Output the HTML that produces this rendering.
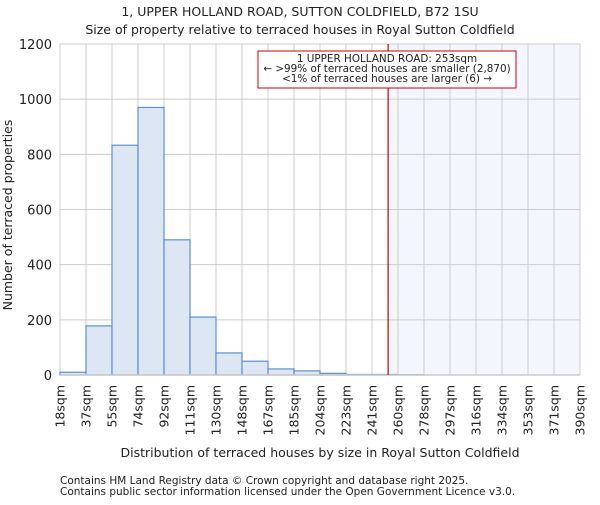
<!DOCTYPE html>
<html><head><meta charset="utf-8"><style>
body{margin:0;background:#fff}
svg text{font-family:"DejaVu Sans","Liberation Sans",sans-serif;fill:#222}
</style></head><body>
<svg id="chart" width="600" height="500" xmlns="http://www.w3.org/2000/svg">
<text x="300" y="16" font-size="12.5" text-anchor="middle">1, UPPER HOLLAND ROAD, SUTTON COLDFIELD, B72 1SU</text>
<text x="300" y="34" font-size="12.5" text-anchor="middle">Size of property relative to terraced houses in Royal Sutton Coldfield</text>
<g id="plot"></g>
<text x="320" y="457" font-size="12.5" text-anchor="middle">Distribution of terraced houses by size in Royal Sutton Coldfield</text>
<text transform="translate(12,215) rotate(-90)" font-size="12.5" text-anchor="middle">Number of terraced properties</text>
<text x="60" y="484" font-size="10.5" fill="#444">Contains HM Land Registry data © Crown copyright and database right 2025.</text>
<text x="60" y="495" font-size="10.5" fill="#444">Contains public sector information licensed under the Open Government Licence v3.0.</text>
</svg>
<script>
const categories=["18sqm","37sqm","55sqm","74sqm","92sqm","111sqm","130sqm","148sqm","167sqm","185sqm","204sqm","223sqm","241sqm","260sqm","278sqm","297sqm","316sqm","334sqm","353sqm","371sqm","390sqm"];
const counts=[10,178,833,970,490,210,80,50,22,15,6,2,2,1,0,0,0,0,0,0];
const yTicks=[0,200,400,600,800,1000,1200];
const markerBin=12.62;
const L=60,R=580,T=44,B=375,ymax=1200,n=20;
const xs=i=>L+(R-L)*i/n, ys=v=>B-(B-T)*v/ymax;
const g=document.getElementById('plot');const NS="http://www.w3.org/2000/svg";
function mk(t,a){const e=document.createElementNS(NS,t);for(const k in a)e.setAttribute(k,a[k]);g.appendChild(e);return e;}
const mx=xs(markerBin);
let e=mk('rect',{x:mx,y:T,width:R-mx,height:B-T,fill:'#f3f6fd'});


yTicks.forEach(v=>{let l=mk('line',{x1:L,x2:R,y1:ys(v),y2:ys(v),stroke:'#cccccc'});


let t=mk('text',{x:L-8,y:ys(v)+5,'font-size':'13','text-anchor':'end'});t.textContent=v;

});
categories.forEach((c,i)=>{let l=mk('line',{x1:xs(i),x2:xs(i),y1:T,y2:B,stroke:'#cccccc'});


let t=mk('text',{transform:`translate(${xs(i)+4.5},${B+10}) rotate(-90)`,'font-size':'12.5','text-anchor':'end'});t.textContent=c;

});
counts.forEach((v,i)=>{if(v<=0)return;let r=mk('rect',{x:xs(i),y:ys(v),width:xs(i+1)-xs(i),height:B-ys(v),fill:'#dde7f4',stroke:'#5b8fd4','stroke-width':'1.2'});

});
e=mk('line',{x1:L,x2:R,y1:B,y2:B,stroke:'#cccccc','stroke-width':'1.5'});


e=mk('line',{x1:mx,x2:mx,y1:T,y2:B,stroke:'#cc0000','stroke-width':'1.2'});


e=mk('rect',{x:258,y:51,width:258,height:37,fill:'#fff',stroke:'#cc0000','stroke-width':'1'});


["1 UPPER HOLLAND ROAD: 253sqm","← >99% of terraced houses are smaller (2,870)","<1% of terraced houses are larger (6) →"].forEach((s,k)=>{let t=mk('text',{x:387,y:62+k*10,'font-size':'10.4','text-anchor':'middle'});t.textContent=s;

});
</script>
</body></html>
